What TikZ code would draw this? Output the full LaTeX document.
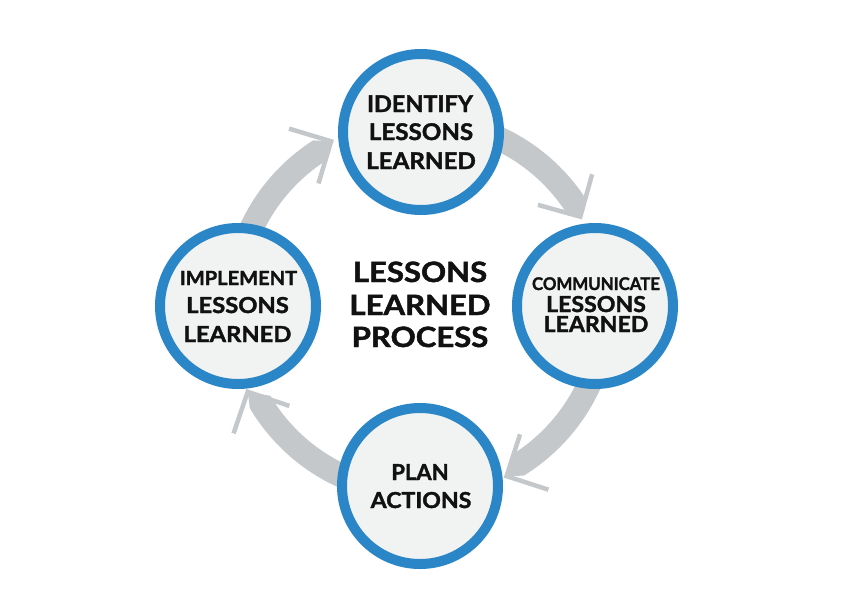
\documentclass[tikz,border=0pt]{standalone}
\usepackage{fontspec}
\setmainfont{Lato}[BoldFeatures={FakeBold=1.6}]
\usetikzlibrary{calc}
\definecolor{ringblue}{HTML}{2A86C7}
\definecolor{arrowgray}{HTML}{C5C8CB}
\definecolor{innerfill}{HTML}{F1F2F2}
\definecolor{inkblack}{HTML}{111111}
\newcommand\cyclearrow[3]{% #1 start angle, #2 tip angle, #3 tip radius
  \pgfmathsetmacro\tbase{#2-4.5}
  \fill[arrowgray] ($(c)+(#1:198)$) arc[start angle=#1, end angle=\tbase, radius=198]
     -- ($(c)+(#2:#3)$) -- ($(c)+(\tbase:174)$)
     arc[start angle=\tbase, end angle=#1, radius=174] -- cycle;
  \draw[barb] ($(c)+(#2:#3)+(#2-45:44)$) -- ($(c)+(#2:#3)$) -- ($(c)+(#2:#3)+(#2-135:44)$);
}
\newcommand\wide[2]{\scalebox{#1}[1]{#2}}
\begin{document}
\begin{tikzpicture}[x=1pt,y=-1pt,
  ring/.style={circle, draw=ringblue, line width=10pt, fill=innerfill, minimum size=156pt, inner sep=0pt},
  barb/.style={draw=arrowgray, line width=4.5pt, line join=miter},
  lbl/.style={anchor=base, inner sep=0pt, text=inkblack, font=\bfseries\fontsize{#1}{#1}\selectfont},
  lbl/.default=22.5
]
\useasboundingbox (0,0) rectangle (842,595);
\fill[white] (0,0) rectangle (842,595);
\coordinate (c) at (420,307);

% arrows
\cyclearrow{-70}{-29.4}{184}
\cyclearrow{20}{62.9}{190}
\cyclearrow{110}{153.8}{192}
\cyclearrow{200}{241.8}{188}

% circles
\node[ring] (T) at (421,132) {};
\node[ring] (R) at (595,306) {};
\node[ring] (B) at (420,486) {};
\node[ring] (L) at (238,306) {};

% top
\node[lbl=23] (t1) at (420,112) {\wide{1.02}{IDENTIFY}};
\node[lbl=23] (t2) at (421,140) {\wide{1.05}{LESSONS}};
\node[lbl=23] (t3) at (421,169) {\wide{1.05}{LEARNED}};
% right
\node[lbl=17.5] (r1) at (596,290) {\wide{0.96}{COMMUNICATE}};
\node[lbl=22] (r2) at (596,312) {\wide{1.05}{LESSONS}};
\node[lbl=22] (r3) at (596,332) {\wide{1.05}{LEARNED}};
% bottom
\node[lbl=22] (b1) at (420,480) {PLAN};
\node[lbl=22] (b2) at (421,508) {\wide{1.05}{ACTIONS}};
% left
\node[lbl=19.5] (l1) at (238.5,285) {\wide{1.03}{IMPLEMENT}};
\node[lbl=22] (l2) at (237.5,313) {\wide{1.08}{LESSONS}};
\node[lbl=22] (l3) at (237.5,342) {\wide{1.08}{LEARNED}};
% centre
\node[lbl=28] (m1) at (420,282) {\wide{1.11}{LESSONS}};
\node[lbl=28] (m2) at (420,315) {\wide{1.11}{LEARNED}};
\node[lbl=28] (m3) at (420,347) {\wide{1.11}{PROCESS}};
\end{tikzpicture}
\end{document}
